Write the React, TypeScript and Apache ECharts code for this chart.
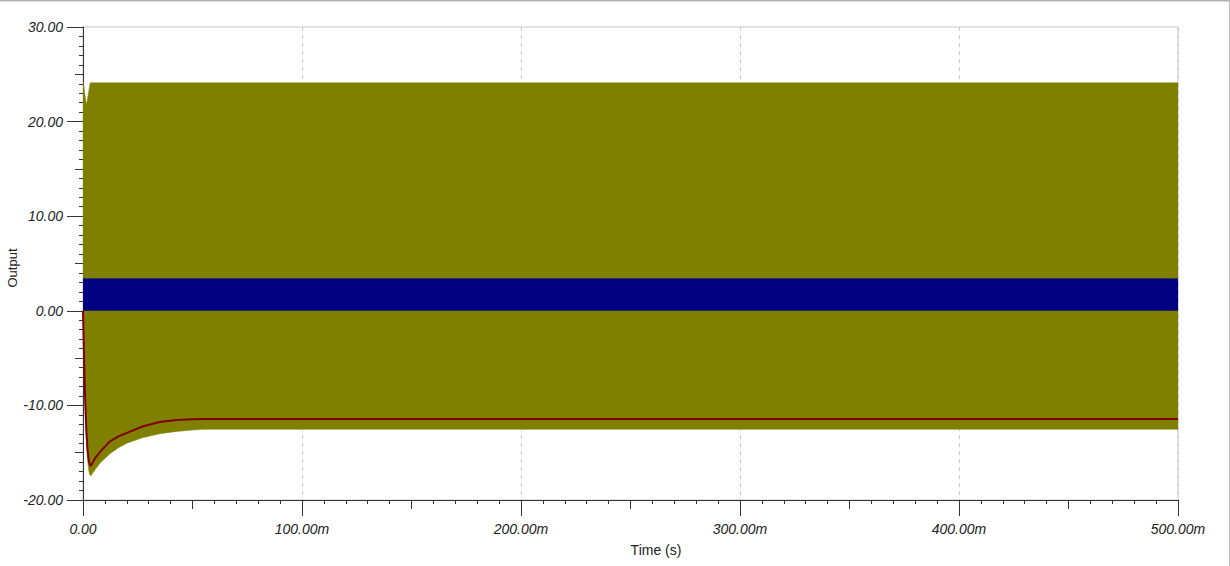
import React, { useEffect, useRef } from "react";
import * as echarts from "echarts";

// Time samples (s) for the olive envelope
const oliveTime = [0, 0.0003, 0.0006, 0.001, 0.0015, 0.0017, 0.002, 0.0025, 0.003, 0.0033, 0.0035, 0.0055, 0.0078, 0.0123, 0.016, 0.02, 0.0275, 0.035, 0.0428, 0.05, 0.055, 0.5];
const oliveUpper = [24.1, 24.1, 23.4, 22.6, 22.0, 21.9, 22.3, 23.0, 23.7, 24.1, 24.1, 24.1, 24.1, 24.1, 24.1, 24.1, 24.1, 24.1, 24.1, 24.1, 24.1, 24.1];
const oliveLower = [0, -4, -7, -10.5, -13.5, -14.3, -15.5, -16.7, -17.3, -17.4, -17.45, -16.8, -16.1, -15.1, -14.5, -14.0, -13.4, -13.0, -12.75, -12.6, -12.53, -12.53];

// Navy band (0 .. top)
const navyTime = [0, 0.5];
const navyTop = [3.4, 3.4];

// Dark red average trace
const redTime = [0, 0.0003, 0.0006, 0.001, 0.0015, 0.002, 0.0025, 0.003, 0.0035, 0.0055, 0.0078, 0.0123, 0.016, 0.02, 0.0275, 0.035, 0.0428, 0.05, 0.055, 0.5];
const redValues = [0, -3, -6, -9.5, -12.5, -14.5, -15.6, -16.2, -16.4, -15.6, -14.9, -13.8, -13.3, -12.9, -12.2, -11.75, -11.55, -11.47, -11.44, -11.44];

const FONT = "Arial, 'Liberation Sans', sans-serif";

export default function App() {
  const ref = useRef<HTMLDivElement>(null);
  useEffect(() => {
    document.body.style.margin = "0";
    const chart = echarts.init(ref.current!, undefined, { renderer: "svg" });
    const oliveData = oliveTime.map((t, i) => [t, oliveUpper[i], oliveLower[i]]);
    const navyData = navyTime.map((t, i) => [t, navyTop[i]]);
    const redData = redTime.map((t, i) => [t, redValues[i]]);
    const labelStyle = { fontFamily: FONT, fontSize: 14, fontStyle: "italic", color: "#222" };
    chart.setOption({
      animation: false,
      backgroundColor: "#fff",
      grid: { left: 83, top: 27, right: 52, bottom: 66, show: true, borderColor: "#c8c8c8", borderWidth: 1, backgroundColor: "transparent" },
      xAxis: [
        {
          type: "value", min: 0, max: 0.5, interval: 0.1,
          axisLine: { show: true, onZero: false, lineStyle: { color: "#333", width: 1 } },
          axisTick: { show: true, length: 16, lineStyle: { color: "#333" } },
          minorTick: { show: true, splitNumber: 10, length: 4, lineStyle: { color: "#333" } },
          splitLine: { show: true, lineStyle: { color: "#c8c8c8", type: [4, 4], width: 1 } },
          axisLabel: { ...labelStyle, margin: 22, formatter: (v: number) => (v === 0 ? "0.00" : (v * 1000).toFixed(2) + "m") },
        },
        {
          type: "value", min: 0, max: 0.5, interval: 0.05, position: "bottom",
          axisLine: { show: false, onZero: false },
          axisTick: { show: true, length: 9, lineStyle: { color: "#333" } },
          axisLabel: { show: false },
          splitLine: { show: false },
        },
      ],
      yAxis: [
        {
          type: "value", min: -20, max: 30, interval: 10,
          axisLine: { show: true, onZero: false, lineStyle: { color: "#333", width: 1 } },
          axisTick: { show: true, length: 16, lineStyle: { color: "#333" } },
          minorTick: { show: true, splitNumber: 10, length: 4, lineStyle: { color: "#333" } },
          splitLine: { show: false },
          axisLabel: { ...labelStyle, margin: 20, formatter: (v: number) => v.toFixed(2) },
        },
        {
          type: "value", min: -20, max: 30, interval: 5, position: "left",
          axisLine: { show: false, onZero: false },
          axisTick: { show: true, length: 8, lineStyle: { color: "#333" } },
          axisLabel: { show: false },
          splitLine: { show: false },
        },
      ],
      series: [
        {
          name: "olive", type: "custom", data: oliveData, clip: true, silent: true,
          encode: { x: 0, y: [1, 2] },
          renderItem: (params: any, api: any) => {
            if (params.dataIndex !== 0) return null;
            const top = oliveData.map((d) => api.coord([d[0], d[1]]));
            const bottom = oliveData.map((d) => api.coord([d[0], d[2]])).reverse();
            return {
              type: "polygon",
              shape: { points: top.concat(bottom) },
              style: { fill: "#808000", stroke: "#808000", lineWidth: 0.5 },
            };
          },
        },
        {
          name: "navy", type: "line", data: navyData, symbol: "none",
          lineStyle: { width: 0.5, color: "#000080" }, areaStyle: { color: "#000080", opacity: 1, origin: "auto" },
        },
        {
          name: "red", type: "line", data: redData, symbol: "none",
          lineStyle: { width: 2, color: "#800000" },
        },
      ],
      graphic: [
        { type: "text", x: 12, y: 268, rotation: Math.PI / 2, style: { text: "Output", font: "13px " + FONT, fill: "#222", textAlign: "center", textVerticalAlign: "middle" } },
        { type: "text", x: 656, y: 550, style: { text: "Time (s)", font: "14px " + FONT, fill: "#222", textAlign: "center", textVerticalAlign: "middle" } },
        { type: "line", shape: { x1: 0, y1: 0.5, x2: 1230, y2: 0.5 }, style: { stroke: "#b0b0b0", lineWidth: 2 } },
        { type: "line", shape: { x1: 1229.5, y1: 0, x2: 1229.5, y2: 566 }, style: { stroke: "#c0c0c0", lineWidth: 1 } },
      ],
    });
    return () => chart.dispose();
  }, []);
  return <div ref={ref} style={{ position: "absolute", left: 0, top: 0, width: 1230, height: 566 }} />;
}
